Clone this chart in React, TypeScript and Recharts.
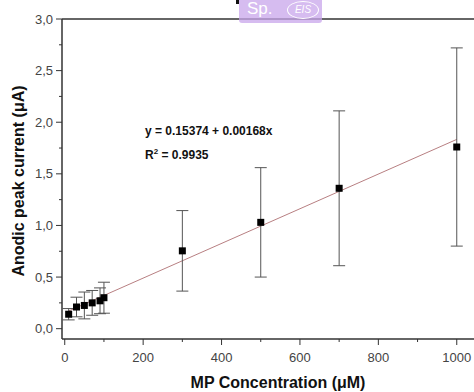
import React from 'react';
import {
  ComposedChart,
  Scatter,
  Line,
  XAxis,
  YAxis,
  ErrorBar,
  ReferenceLine,
} from 'recharts';

// MP concentration (uM) and anodic peak current (uA)
const concentrations = [10, 30, 50, 70, 90, 100, 300, 500, 700, 1000];
const peakCurrents = [0.14, 0.21, 0.225, 0.25, 0.27, 0.3, 0.754, 1.03, 1.36, 1.76];
const currentErrors = [0.055, 0.095, 0.13, 0.12, 0.125, 0.15, 0.39, 0.53, 0.75, 0.96];

// linear fit printed on the chart
const fitIntercept = 0.15374;
const fitSlope = 0.00168;
const fitRange = [10, 1000];

const xTicks = [0, 200, 400, 600, 800, 1000];
const xMinorTicks = [100, 300, 500, 700, 900];
const yTicks = [0, 0.5, 1, 1.5, 2, 2.5, 3];
const yMinorTicks = [0.25, 0.75, 1.25, 1.75, 2.25, 2.75];

const points = concentrations.map((x, i) => ({
  x,
  y: peakCurrents[i],
  err: currentErrors[i],
}));
const fitLine = fitRange.map((x) => ({ x, fit: fitIntercept + fitSlope * x }));

const FONT = '"Liberation Sans", Arial, sans-serif';
const AXIS = '#333';
const W = 474;
const H = 392;
const LEFT = 62; // y axis position
const BOTTOM = 53; // space below plot
const AXIS_Y = H - BOTTOM;

const Square = (props: any) => {
  const { cx, cy } = props;
  return <rect x={cx - 3.5} y={cy - 3.5} width={7} height={7} fill="#000" />;
};

const XTick = (props: any) => {
  const { x, payload } = props;
  const major = xTicks.includes(payload.value);
  return (
    <g>
      <line x1={x} x2={x} y1={AXIS_Y} y2={AXIS_Y + (major ? 6 : 3)} stroke={AXIS} strokeWidth={1} />
      {major && (
        <text x={x} y={AXIS_Y + 23} textAnchor="middle" fontFamily={FONT} fontSize={13} fill="#444">
          {payload.value}
        </text>
      )}
    </g>
  );
};

const YTick = (props: any) => {
  const { y, payload } = props;
  const major = yTicks.includes(payload.value);
  return (
    <g>
      <line x1={LEFT} x2={LEFT - (major ? 6 : 3)} y1={y} y2={y} stroke={AXIS} strokeWidth={1} />
      {major && (
        <text
          x={LEFT - 9}
          y={y}
          dy={4.5}
          textAnchor="end"
          fontFamily={FONT}
          fontSize={13}
          fill="#444"
        >
          {payload.value.toFixed(1).replace('.', ',')}
        </text>
      )}
    </g>
  );
};

export default function App() {
  return (
    <div style={{ position: 'absolute', left: 0, top: 0, width: W, height: H, background: '#fff' }}>
      <ComposedChart width={W} height={H} margin={{ top: 19, right: 0, bottom: 0, left: 0 }}>
        <XAxis
          type="number"
          dataKey="x"
          domain={[-7, 1044]}
          ticks={[...xTicks, ...xMinorTicks].sort((a, b) => a - b)}
          allowDataOverflow
          height={BOTTOM}
          tickLine={false}
          stroke={AXIS}
          strokeWidth={1.5}
          tick={<XTick />}
        />
        <YAxis
          type="number"
          domain={[-0.1, 3]}
          ticks={[...yTicks, ...yMinorTicks].sort((a, b) => a - b)}
          allowDataOverflow
          width={LEFT}
          tickLine={false}
          stroke={AXIS}
          strokeWidth={1.5}
          tick={<YTick />}
        />
        <ReferenceLine y={3} stroke={AXIS} strokeWidth={1.5} />
        <Line
          data={fitLine}
          dataKey="fit"
          type="linear"
          dot={false}
          stroke="#b87f82"
          strokeWidth={1}
          isAnimationActive={false}
        />
        <Scatter data={points} dataKey="y" shape={Square} isAnimationActive={false}>
          <ErrorBar dataKey="err" direction="y" width={6} stroke="#555" strokeWidth={1} />
        </Scatter>
        <text x={145} y={135} fontFamily={FONT} fontWeight="bold" fontSize={12} fill="#111">
          y = 0.15374 + 0.00168x
        </text>
        <text x={145} y={159} fontFamily={FONT} fontWeight="bold" fontSize={12} fill="#111">
          R<tspan fontSize={8} dy={-5}>2</tspan>
          <tspan dy={5}> = 0.9935</tspan>
        </text>
        <text
          x={20}
          y={181}
          transform="rotate(-90 20 181)"
          textAnchor="middle"
          dominantBaseline="middle"
          fontFamily={FONT}
          fontWeight="bold"
          fontSize={16}
          fill="#111"
        >
          Anodic peak current (μA)
        </text>
        <text
          x={278}
          y={388}
          textAnchor="middle"
          fontFamily={FONT}
          fontWeight="bold"
          fontSize={16}
          fill="#111"
        >
          MP Concentration (μM)
        </text>
      </ComposedChart>
      <div
        style={{
          position: 'absolute',
          left: 239,
          top: 0,
          width: 83,
          height: 23,
          background: 'rgba(200,165,235,0.75)',
          borderRadius: '0 0 3px 3px',
          overflow: 'hidden',
          fontFamily: FONT,
          color: '#fff',
        }}
      >
        <span style={{ position: 'absolute', left: 8, top: -1, fontSize: 17, lineHeight: '20px' }}>Sp.</span>
        <span
          style={{
            position: 'absolute',
            left: 48,
            top: 1,
            width: 30,
            height: 16,
            border: '1.5px solid #fff',
            borderRadius: '50%',
            fontSize: 10,
            fontStyle: 'italic',
            lineHeight: '16px',
            textAlign: 'center',
          }}
        >
          EIS
        </span>
      </div>
      <div style={{ position: 'absolute', left: 236, top: 0, width: 3, height: 4, background: '#111' }} />
    </div>
  );
}
